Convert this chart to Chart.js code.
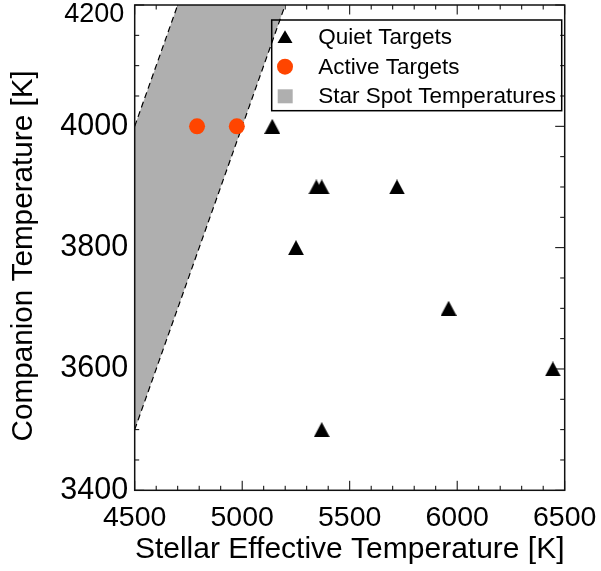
<!DOCTYPE html>
<html>
<head>
<meta charset="utf-8">
<script src="https://cdn.jsdelivr.net/npm/chart.js@4.4.1/dist/chart.umd.min.js"></script>
<style>
  html, body { margin: 0; padding: 0; background: #fff; }
</style>
</head>
<body>
<canvas id="myCanvas" width="601" height="571"></canvas>
<script>
// axis ticks
const xTicks = [4500, 5000, 5500, 6000, 6500];
const yTicks = [3400, 3600, 3800, 4000, 4200];

// quiet targets (triangles)
const quietTeff = [5140, 5345, 5370, 5720, 5250, 5960, 6445, 5370];
const quietComp = [4000, 3900, 3900, 3900, 3800, 3700, 3600, 3500];

// active targets (circles)
const activeTeff = [4790, 4975];
const activeComp = [4000, 4000];

// star spot band: hot edge (runs along the top of the box at the end) and cool edge
const spotHotTeff = [4500, 4700, 5200];
const spotHotComp = [4000, 4200, 4200];
const spotCoolTeff = [4500, 5200];
const spotCoolComp = [3500, 4200];

const labels = ['Quiet Targets', 'Active Targets', 'Star Spot Temperatures'];
const spotGray = '#afafaf';
const activeRed = '#ff4500';

function pts(xs, ys) {
  return xs.map((v, i) => ({x: v, y: ys[i]}));
}

// triangle marker as an image so it sits centred on the point
function makeTriangle(w, h) {
  const c = document.createElement('canvas');
  c.width = w; c.height = h;
  const g = c.getContext('2d');
  g.fillStyle = '#000';
  g.beginPath();
  g.moveTo(w / 2, 0);
  g.lineTo(w, h);
  g.lineTo(0, h);
  g.closePath();
  g.fill();
  return c;
}
const triangle = makeTriangle(16, 15);

Chart.defaults.font.family = "'Liberation Sans', Arial, Helvetica, sans-serif";
Chart.defaults.color = '#000';

const frameTicks = {
  id: 'frameTicks',
  beforeDatasetsDraw(chart) {
    const {ctx, chartArea: a, scales: {x, y}} = chart;
    ctx.save();
    ctx.strokeStyle = '#000';
    ctx.lineWidth = 1;
    ctx.beginPath();
    for (let v = xTicks[0]; v <= xTicks[xTicks.length - 1]; v += 100) {
      const px = x.getPixelForValue(v);
      const len = xTicks.includes(v) ? 9.5 : 4.5;
      ctx.moveTo(px, a.bottom); ctx.lineTo(px, a.bottom - len);
      ctx.moveTo(px, a.top); ctx.lineTo(px, a.top + len);
    }
    for (let v = yTicks[0]; v <= yTicks[yTicks.length - 1]; v += 50) {
      const py = y.getPixelForValue(v);
      const len = yTicks.includes(v) ? 9.5 : 4.5;
      ctx.moveTo(a.left, py); ctx.lineTo(a.left + len, py);
      ctx.moveTo(a.right, py); ctx.lineTo(a.right - len, py);
    }
    ctx.stroke();
    ctx.restore();
  },
  afterDatasetsDraw(chart) {
    const {ctx, chartArea: a} = chart;
    ctx.save();
    ctx.strokeStyle = '#111';
    ctx.lineWidth = 1.5;
    ctx.strokeRect(a.left, a.top, a.right - a.left, a.bottom - a.top);
    ctx.restore();
  }
};

const boxLegend = {
  id: 'boxLegend',
  afterDraw(chart) {
    const ctx = chart.ctx;
    ctx.save();
    ctx.strokeStyle = '#000';
    ctx.lineWidth = 1.5;
    ctx.strokeRect(271.7, 20, 290, 90.7);

    // markers
    ctx.fillStyle = '#000';
    ctx.beginPath();
    ctx.moveTo(285, 30.3);
    ctx.lineTo(292.5, 43);
    ctx.lineTo(277.5, 43);
    ctx.closePath();
    ctx.fill();

    ctx.fillStyle = activeRed;
    ctx.beginPath();
    ctx.arc(285, 66.7, 8, 0, Math.PI * 2);
    ctx.fill();

    ctx.fillStyle = spotGray;
    ctx.fillRect(277.7, 89.3, 15, 14);

    ctx.fillStyle = '#000';
    ctx.font = "22.5px 'Liberation Sans', Arial, sans-serif";
    ctx.textBaseline = 'alphabetic';
    ctx.textAlign = 'left';
    ctx.fillText(labels[0], 318.3, 44.3);
    ctx.fillText(labels[1], 318.3, 74);
    ctx.fillText(labels[2], 318.3, 103.3);
    ctx.restore();
  }
};

const ctx = document.getElementById('myCanvas').getContext('2d');
const chart = new Chart(ctx, {
  type: 'line',
  data: {
    datasets: [
      {
        label: labels[0],
        data: pts(quietTeff, quietComp),
        showLine: false,
        pointStyle: triangle,
        pointRadius: 8,
        order: 0
      },
      {
        label: labels[1],
        data: pts(activeTeff, activeComp),
        showLine: false,
        pointStyle: 'circle',
        pointRadius: 8,
        pointBorderWidth: 0,
        pointBackgroundColor: activeRed,
        order: 1
      },
      {
        label: labels[2],
        data: pts(spotHotTeff, spotHotComp),
        borderWidth: 0,
        pointRadius: 0,
        backgroundColor: spotGray,
        fill: 3,
        order: 5
      },
      {
        label: 'cool edge',
        data: pts(spotCoolTeff, spotCoolComp),
        borderColor: '#000',
        borderWidth: 1.2,
        borderDash: [6, 4],
        pointRadius: 0,
        fill: false,
        order: 3
      },
      {
        label: 'hot edge',
        data: pts(spotHotTeff.slice(0, 2), spotHotComp.slice(0, 2)),
        borderColor: '#000',
        borderWidth: 1.2,
        borderDash: [6, 4],
        pointRadius: 0,
        fill: false,
        order: 3
      }
    ]
  },
  options: {
    responsive: false,
    animation: false,
    devicePixelRatio: 1,
    layout: { autoPadding: false, padding: { left: 0, top: 5, right: 36.3, bottom: 0 } },
    plugins: {
      legend: { display: false },
      tooltip: { enabled: false }
    },
    scales: {
      x: {
        type: 'linear',
        min: 4500,
        max: 6500,
        afterBuildTicks: s => { s.ticks = xTicks.map(v => ({value: v})); },
        afterFit: s => { s.height = 80.7; s.paddingLeft = 0; s.paddingRight = 0; },
        grid: { drawOnChartArea: false, drawTicks: false },
        border: { display: false },
        ticks: {
          autoSkip: false,
          maxRotation: 0,
          padding: 10.6,
          color: '#000',
          callback: v => String(v),
          font: { size: 28.5, lineHeight: 1.2 }
        },
        title: {
          display: true,
          text: 'Stellar Effective Temperature [K]',
          color: '#000',
          font: { size: 30, lineHeight: 1.2 },
          padding: { top: 0, bottom: 3.5 }
        }
      },
      y: {
        type: 'linear',
        min: 3400,
        max: 4200,
        afterBuildTicks: s => { s.ticks = yTicks.map(v => ({value: v})); },
        afterFit: s => { s.width = 134.7; s.paddingTop = 0; s.paddingBottom = 0; },
        grid: { drawOnChartArea: false, drawTicks: false },
        border: { display: false },
        ticks: {
          crossAlign: 'center',
          padding: 6.5,
          color: '#000',
          callback: v => v === 4200 ? ['', String(v)] : String(v),
          font: c => (c.tick && c.tick.value === 4200)
            ? { size: 27, lineHeight: '19px' }
            : { size: 30.5, lineHeight: 1.2 }
        },
        title: {
          display: true,
          text: 'Companion Temperature [K]  ',
          color: '#000',
          font: { size: 29.7, lineHeight: 1.2 },
          padding: { top: 5.8, bottom: 0 }
        }
      }
    }
  },
  plugins: [frameTicks, boxLegend]
});
</script>
</body>
</html>
